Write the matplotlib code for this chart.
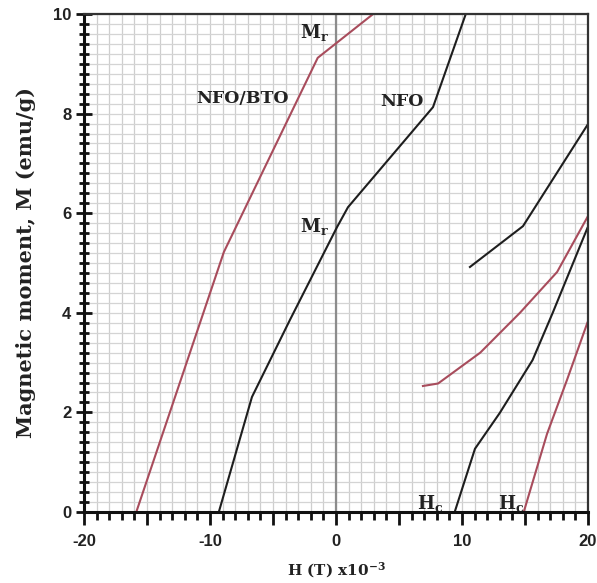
import matplotlib
matplotlib.use("Agg")
import matplotlib.pyplot as plt
from matplotlib.ticker import MultipleLocator, FuncFormatter

# ---- data (H in T x10^-3, M in emu/g) ----
nfo_bto_up_h = [-15.85, -8.9, -1.45, 2.95]
nfo_bto_up_m = [0.0, 5.22, 9.12, 10.0]

nfo_up_h = [-9.3, -6.67, -3.65, 0.08, 0.95, 7.7, 10.3]
nfo_up_m = [0.0, 2.31, 3.86, 5.72, 6.12, 8.13, 10.0]

nfo_ret_h = [10.63, 14.84, 19.95]
nfo_ret_m = [4.92, 5.74, 7.77]

nfo_low_h = [9.42, 11.03, 13.0, 15.6, 17.2, 19.95]
nfo_low_m = [0.0, 1.27, 1.99, 3.05, 4.0, 5.7]

bto_ret_h = [6.9, 8.1, 11.45, 14.6, 17.55, 19.95]
bto_ret_m = [2.53, 2.58, 3.2, 4.0, 4.82, 5.92]

bto_low_h = [14.9, 16.75, 18.33, 19.95]
bto_low_m = [0.0, 1.57, 2.65, 3.8]

black = "#1e1e1e"
red = "#a84c5c"

plt.rcParams["mathtext.fontset"] = "custom"
plt.rcParams["mathtext.rm"] = "DejaVu Serif:bold"
plt.rcParams["mathtext.bf"] = "DejaVu Serif:bold"
plt.rcParams["mathtext.it"] = "DejaVu Serif:bold"

fig = plt.figure(figsize=(5.97, 5.83), dpi=100)
ax = fig.add_axes([84/597, 1-512/583, 504/597, 498/583])

ax.set_xlim(-20, 20)
ax.set_ylim(0, 10)

# grid
for gx in range(-20, 21):
    ax.axvline(gx, color="#cecece", lw=0.9, zorder=0)
for i in range(0, 51):
    ax.axhline(i*0.2, color="#d4d4d4", lw=0.9, zorder=0)
ax.axvline(0, color="#8c8c8c", lw=1.6, zorder=1)

lw = 1.5
ax.plot(nfo_bto_up_h, nfo_bto_up_m, color=red, lw=lw, zorder=3)
ax.plot(bto_ret_h, bto_ret_m, color=red, lw=lw, zorder=3)
ax.plot(bto_low_h, bto_low_m, color=red, lw=lw, zorder=3)
ax.plot(nfo_up_h, nfo_up_m, color=black, lw=lw, zorder=3)
ax.plot(nfo_ret_h, nfo_ret_m, color=black, lw=lw, zorder=3)
ax.plot(nfo_low_h, nfo_low_m, color=black, lw=lw, zorder=3)

tf = dict(family="DejaVu Serif", fontweight="bold", fontsize=12.5, color="#222222")
ax.text(-7.4, 8.3, "NFO/BTO", ha="center", va="center", **tf)
ax.text(5.2, 8.25, "NFO", ha="center", va="center", **tf)
ax.text(-1.7, 9.62, r"$\mathrm{M_r}$", ha="center", va="center", fontsize=13, color="#222222")
ax.text(-1.7, 5.73, r"$\mathrm{M_r}$", ha="center", va="center", fontsize=13, color="#222222")
ax.text(7.5, 0.18, r"$\mathrm{H_c}$", ha="center", va="center", fontsize=13, color="#222222")
ax.text(13.9, 0.18, r"$\mathrm{H_c}$", ha="center", va="center", fontsize=13, color="#222222")

# spines
ax.spines["left"].set_linewidth(2.2)
ax.spines["bottom"].set_linewidth(2.2)
ax.spines["left"].set_color("#111111")
ax.spines["bottom"].set_color("#111111")
ax.spines["top"].set_linewidth(1.6)
ax.spines["right"].set_linewidth(1.6)
ax.spines["top"].set_color("#333333")
ax.spines["right"].set_color("#333333")
for s in ax.spines.values():
    s.set_zorder(4)

# ticks
ax.xaxis.set_major_locator(MultipleLocator(5))
ax.xaxis.set_minor_locator(MultipleLocator(1))
ax.xaxis.set_major_formatter(FuncFormatter(lambda v, p: f"{int(round(v))}" if round(v) % 10 == 0 else ""))
ax.yaxis.set_major_locator(MultipleLocator(2))
ax.yaxis.set_minor_locator(MultipleLocator(0.2))
ax.tick_params(axis="x", which="major", direction="out", length=9, width=2, color="#111111", pad=7)
ax.tick_params(axis="x", which="minor", direction="out", length=6, width=2, color="#111111")
ax.tick_params(axis="y", which="major", direction="inout", length=12, width=2, color="#111111", pad=3)
ax.tick_params(axis="y", which="minor", direction="inout", length=7, width=2, color="#111111")
for lab in ax.get_xticklabels() + ax.get_yticklabels():
    lab.set_family("Liberation Sans")
    lab.set_fontweight("bold")
    lab.set_fontsize(12)
    lab.set_color("#222222")

ax.set_xlabel(r"H (T) x10$^{-3}$", family="DejaVu Serif", fontweight="bold", fontsize=11, labelpad=8, color="#222222")
ax.set_ylabel("Magnetic moment, M (emu/g)", family="DejaVu Serif", fontweight="bold", fontsize=15, labelpad=12, color="#222222")

fig.savefig("out.png", dpi=100, facecolor="white")
